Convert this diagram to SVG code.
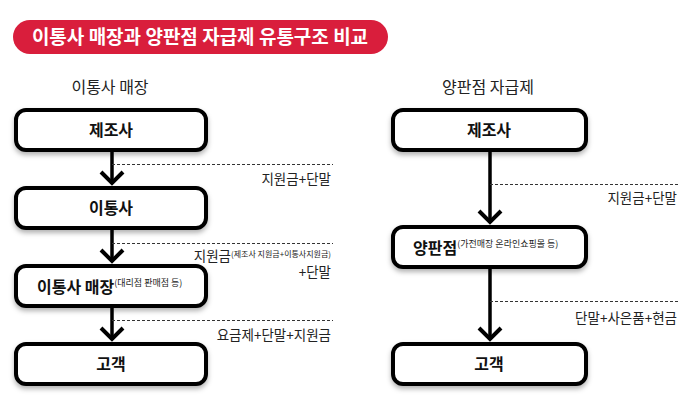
<svg xmlns="http://www.w3.org/2000/svg" width="680" height="406" viewBox="0 0 680 406">
<defs>
<filter id="sh" x="-10%" y="-20%" width="120%" height="160%">
<feDropShadow dx="0" dy="3" stdDeviation="2.5" flood-color="#000" flood-opacity="0.3"/>
</filter>
</defs>
<style>
text{font-family:"Noto Sans CJK KR","Noto Sans",sans-serif;}
.box{fill:#fff;stroke:#000;stroke-width:4;filter:url(#sh);}
.bt{font-size:16px;font-weight:bold;fill:#111;}
.st{font-size:9px;fill:#222;}
.sub{font-size:16px;fill:#222;}
.lab{font-size:13.5px;fill:#222;text-anchor:end;}
.ln{stroke:#000;stroke-width:3.5;fill:none;}
.hd{stroke:#000;stroke-width:4;fill:none;stroke-linejoin:miter;}
.ds{stroke:#333;stroke-width:1;stroke-dasharray:3,2;fill:none;}
</style>
<g id="title">
<rect x="13" y="20" width="375" height="34" rx="17" fill="#d91e3c"/>
<text x="200" y="44" text-anchor="middle" font-size="19" font-weight="bold" fill="#fff">이통사 매장과 양판점 자급제 유통구조 비교</text>
</g>
<text class="sub" x="110" y="93" text-anchor="middle">이통사 매장</text>
<text class="sub" x="488" y="93" text-anchor="middle">양판점 자급제</text>
<g id="L1"><rect class="box" x="16" y="110" width="190" height="40" rx="10"/><text class="bt" x="111" y="136" text-anchor="middle">제조사</text></g>
<g id="L2"><rect class="box" x="16" y="188" width="190" height="40" rx="10"/><text class="bt" x="111" y="214" text-anchor="middle">이통사</text></g>
<g id="L3"><rect class="box" x="16" y="266" width="190" height="40" rx="10"/><text x="37" y="293"><tspan class="bt">이통사 매장</tspan><tspan class="st" dy="-7">(대리점 판매점 등)</tspan></text></g>
<g id="L4"><rect class="box" x="16" y="344" width="190" height="40" rx="10"/><text class="bt" x="111" y="370" text-anchor="middle">고객</text></g>
<g id="R1"><rect class="box" x="393" y="110" width="193" height="40" rx="10"/><text class="bt" x="489" y="136" text-anchor="middle">제조사</text></g>
<g id="R2"><rect class="box" x="393" y="227" width="193" height="40" rx="10"/><text x="413" y="254"><tspan class="bt">양판점</tspan><tspan class="st" dy="-7">(가전매장 온라인쇼핑몰 등)</tspan></text></g>
<g id="R3"><rect class="box" x="393" y="344" width="193" height="40" rx="10"/><text class="bt" x="489" y="370" text-anchor="middle">고객</text></g>
<g id="connectors">
<line class="ln" x1="112" y1="152" x2="112" y2="184"/>
<polyline class="hd" points="101,172 112,183 123,172"/>
<line class="ln" x1="112" y1="230" x2="112" y2="262"/>
<polyline class="hd" points="101,250 112,261 123,250"/>
<line class="ln" x1="112" y1="308" x2="112" y2="340"/>
<polyline class="hd" points="101,328 112,339 123,328"/>
<line class="ln" x1="490" y1="152" x2="490" y2="223"/>
<polyline class="hd" points="479,211 490,222 501,211"/>
<line class="ln" x1="490" y1="269" x2="490" y2="340"/>
<polyline class="hd" points="479,328 490,339 501,328"/>
<line class="ds" x1="112" y1="164.5" x2="333" y2="164.5"/>
<line class="ds" x1="112" y1="243.5" x2="333" y2="243.5"/>
<line class="ds" x1="112" y1="320.5" x2="333" y2="320.5"/>
<line class="ds" x1="490" y1="184.5" x2="680" y2="184.5"/>
<line class="ds" x1="490" y1="301.5" x2="680" y2="301.5"/>
</g>
<text class="lab" x="331" y="184">지원금+단말</text>
<text class="lab" x="331" y="261">지원금<tspan font-size="8" dy="-4">(제조사 지원금+이통사지원금)</tspan></text>
<text class="lab" x="331" y="277">+단말</text>
<text class="lab" x="331" y="340">요금제+단말+지원금</text>
<text class="lab" x="677" y="203">지원금+단말</text>
<text class="lab" x="677" y="323">단말+사은품+현금</text>
</svg>
